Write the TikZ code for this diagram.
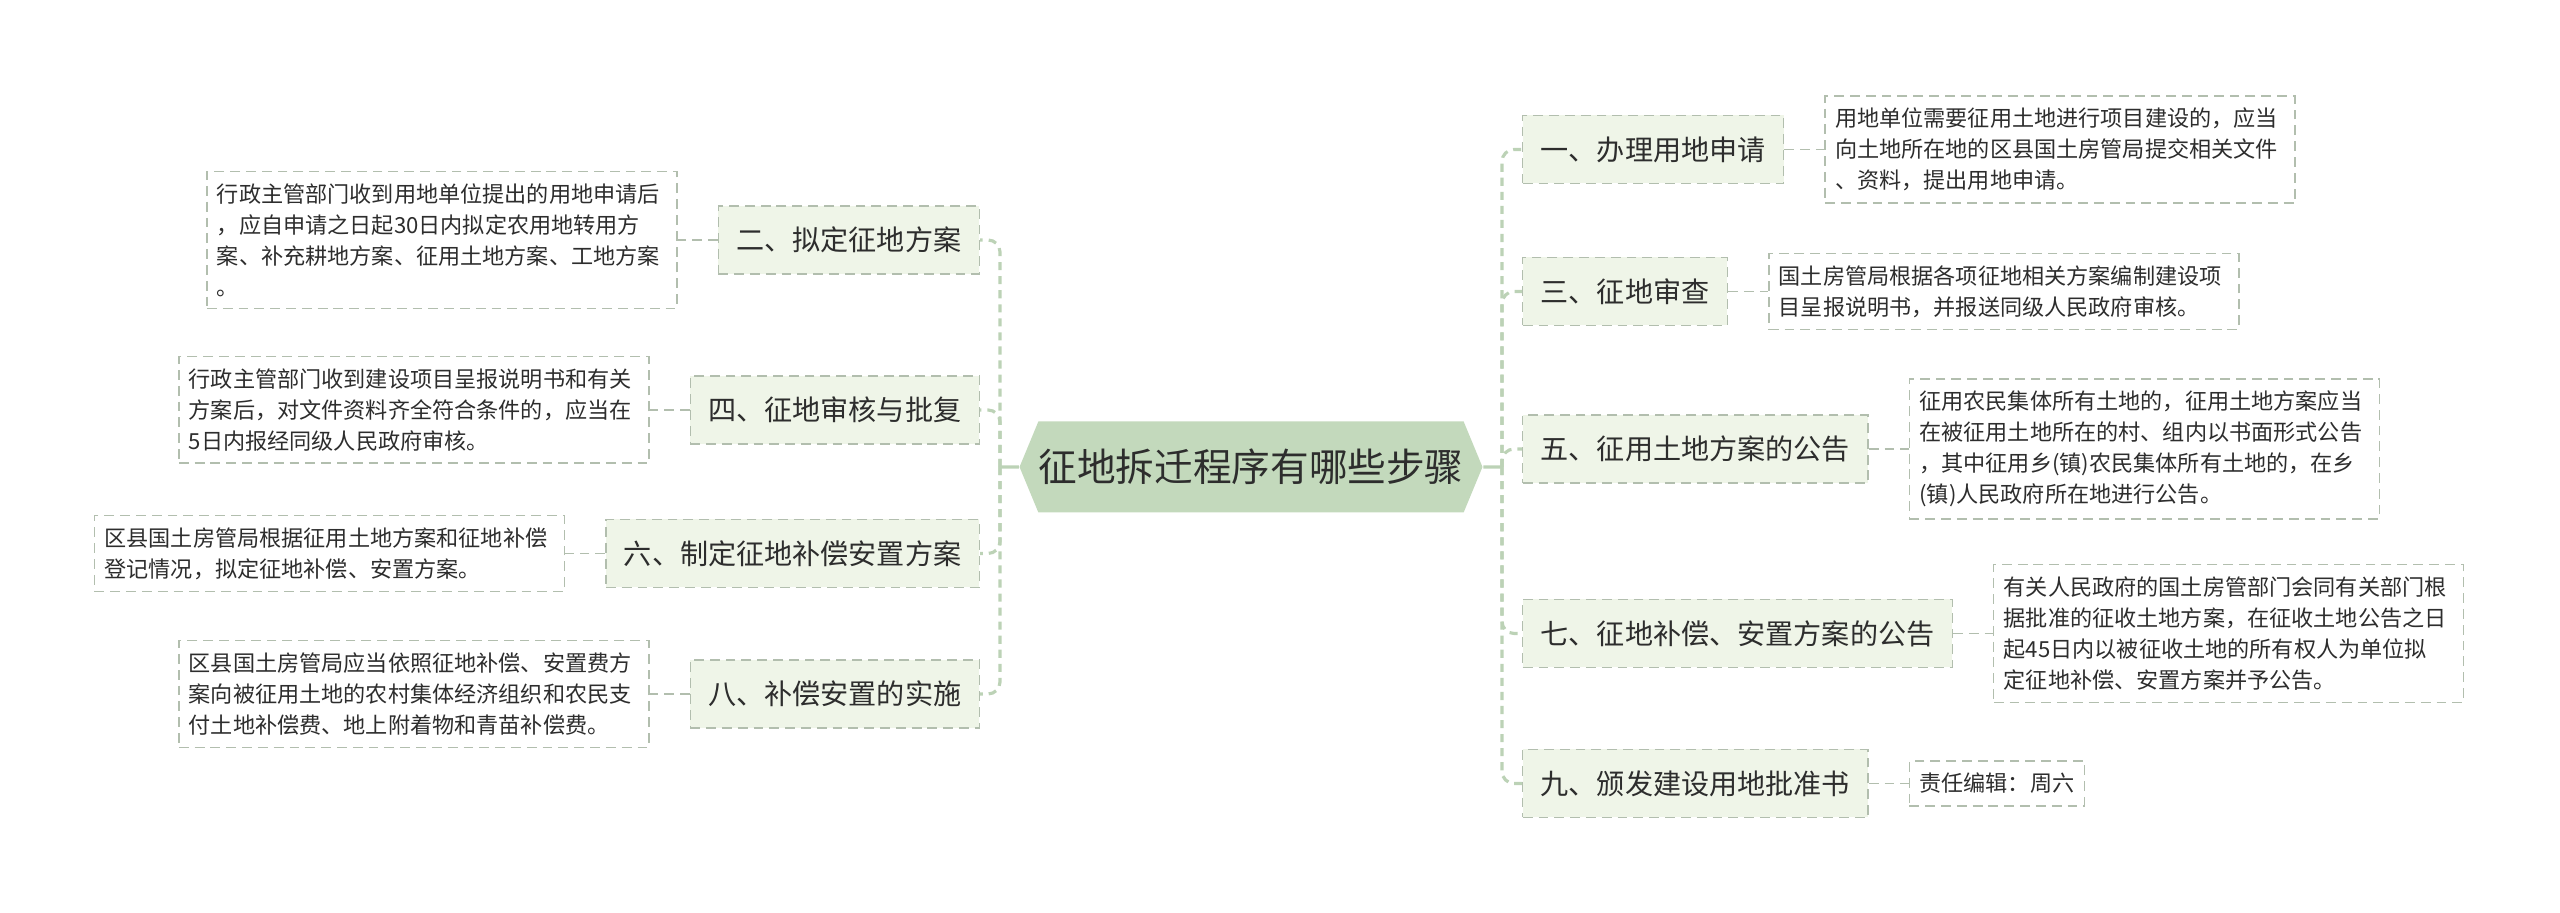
\documentclass[tikz,border=0pt]{standalone}
\usepackage{fontspec}
\setmainfont{Noto Sans CJK SC}
\usetikzlibrary{positioning,shapes.symbols}
\definecolor{rootfill}{RGB}{195,217,188}
\definecolor{branchfill}{RGB}{239,245,232}
\definecolor{spine}{RGB}{188,210,182}
\definecolor{boxline}{RGB}{178,190,174}
\definecolor{ink}{RGB}{45,45,45}

\begin{document}
\begin{tikzpicture}[node distance=0.4cm,
    root/.style={signal, signal to=east and west, signal pointer angle=135, fill=rootfill, text=ink,
      font=\fontsize{11}{13}\selectfont, minimum height=0.91cm, minimum width=4.62cm, inner xsep=0pt},
    branch/.style={draw=boxline, dash pattern=on 2.8pt off 1.7pt, line width=0.4pt, fill=branchfill, text=ink,
      font=\fontsize{8}{10}\selectfont, minimum height=0.68cm, inner xsep=0.18cm},
    leaf/.style={draw=boxline, dash pattern=on 2.8pt off 1.7pt, line width=0.4pt, text=ink,
      font=\fontsize{6.3}{8.8}\selectfont, align=left, inner xsep=0.1cm, inner ysep=0.12cm},
    wide/.style={leaf, text width=4.5cm},
    trunk/.style={draw=spine, line width=0.9pt},
    link/.style={draw=spine, line width=0.9pt, dash pattern=on 2.3pt off 1.7pt, rounded corners=0.12cm},
    twig/.style={draw=boxline, line width=0.5pt, dash pattern=on 2.8pt off 1.7pt}]
  \useasboundingbox (0,0) rectangle (25.6,9.13);

  \node[root] (root) at (12.51,4.46) {征地拆迁程序有哪些步骤};
  \coordinate (rs) at (15.02,4.46);
  \coordinate (ls) at (10.00,4.46);

  \node[branch, anchor=west] (b1) at (15.22,7.635) {一、办理用地申请};
  \node[branch, anchor=west] (b3) at (15.22,6.215) {三、征地审查};
  \node[branch, anchor=west] (b5) at (15.22,4.64) {五、征用土地方案的公告};
  \node[branch, anchor=west] (b7) at (15.22,2.795) {七、征地补偿、安置方案的公告};
  \node[branch, anchor=west] (b9) at (15.22,1.295) {九、颁发建设用地批准书};
  \node[branch, anchor=east] (b2) at (9.80,6.73) {二、拟定征地方案};
  \node[branch, anchor=east] (b4) at (9.80,5.03) {四、征地审核与批复};
  \node[branch, anchor=east] (b6) at (9.80,3.595) {六、制定征地补偿安置方案};
  \node[branch, anchor=east] (b8) at (9.80,2.19) {八、补偿安置的实施};

  \node[wide, right=of b1] (d1) {用地单位需要征用土地进行项目建设的，应当\\向土地所在地的区县国土房管局提交相关文件\\、资料，提出用地申请。};
  \node[wide, right=of b3] (d3) {国土房管局根据各项征地相关方案编制建设项\\目呈报说明书，并报送同级人民政府审核。};
  \node[wide, right=of b5] (d5) {征用农民集体所有土地的，征用土地方案应当\\在被征用土地所在的村、组内以书面形式公告\\，其中征用乡(镇)农民集体所有土地的，在乡\\(镇)人民政府所在地进行公告。};
  \node[wide, right=of b7] (d7) {有关人民政府的国土房管部门会同有关部门根\\据批准的征收土地方案，在征收土地公告之日\\起45日内以被征收土地的所有权人为单位拟\\定征地补偿、安置方案并予公告。};
  \node[leaf, right=of b9] (d9) {责任编辑：周六};
  \node[wide, left=of b2] (d2) {行政主管部门收到用地单位提出的用地申请后\\，应自申请之日起30日内拟定农用地转用方\\案、补充耕地方案、征用土地方案、工地方案\\。};
  \node[wide, left=of b4] (d4) {行政主管部门收到建设项目呈报说明书和有关\\方案后，对文件资料齐全符合条件的，应当在\\5日内报经同级人民政府审核。};
  \node[wide, left=of b6] (d6) {区县国土房管局根据征用土地方案和征地补偿\\登记情况，拟定征地补偿、安置方案。};
  \node[wide, left=of b8] (d8) {区县国土房管局应当依照征地补偿、安置费方\\案向被征用土地的农村集体经济组织和农民支\\付土地补偿费、地上附着物和青苗补偿费。};

  \draw[trunk] (root) -- (rs) (root) -- (ls);
  \foreach \b in {b1,b3,b5,b7,b9}
    \draw[link] (rs) |- (\b.west);
  \foreach \b in {b2,b4,b6,b8}
    \draw[link] (ls) |- (\b.east);
  \foreach \b/\d in {b1/d1,b3/d3,b5/d5,b7/d7,b9/d9,b2/d2,b4/d4,b6/d6,b8/d8}
    \draw[twig] (\b) -- (\d);
\end{tikzpicture}
\end{document}
